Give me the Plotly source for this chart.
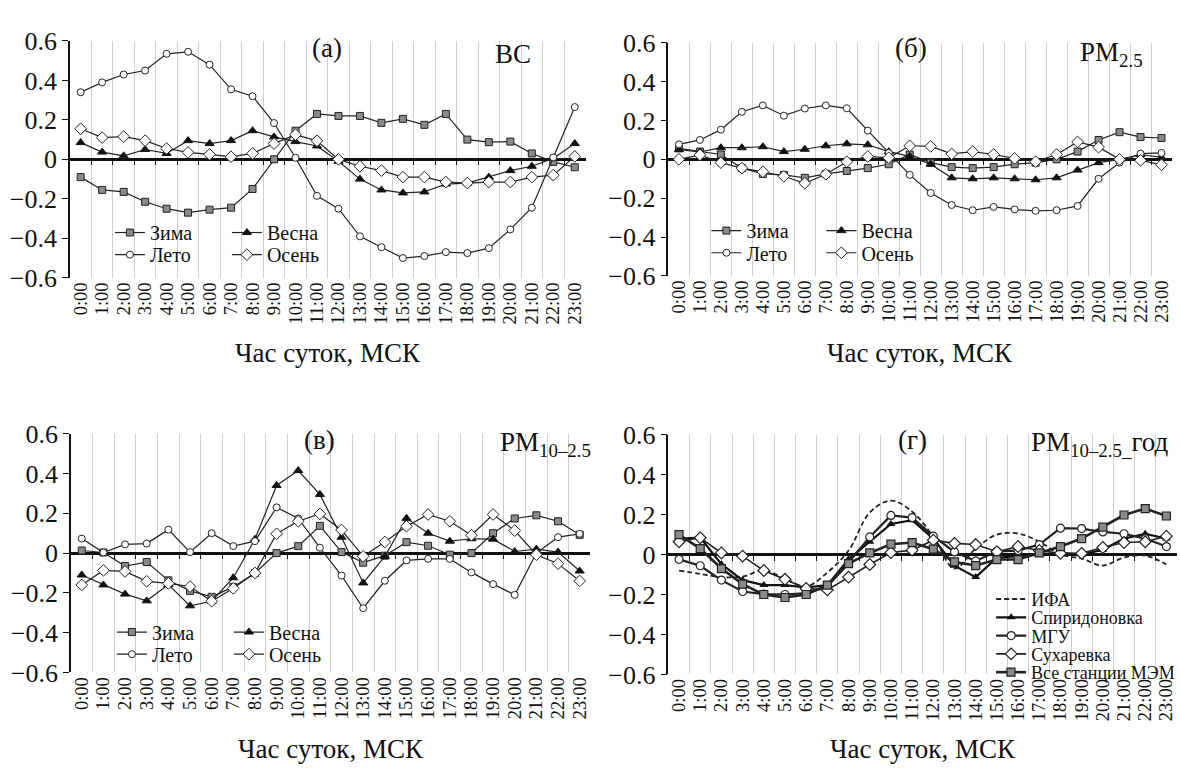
import plotly.graph_objects as go

W, H = 1180, 777
FONT = "Liberation Serif, Times New Roman, serif"

HOURS = [f"{h}:00" for h in range(24)]
X = list(range(24))
SEASONS = ["Зима", "Весна", "Лето", "Осень"]

# (а) BC
bc_zima = [-0.09, -0.155, -0.165, -0.215, -0.25, -0.27, -0.255, -0.245, -0.15, 0.0, 0.145, 0.23,
           0.22, 0.22, 0.185, 0.205, 0.175, 0.23, 0.10, 0.087, 0.09, 0.03, -0.013, -0.04]
bc_vesna = [0.085, 0.037, 0.018, 0.05, 0.03, 0.095, 0.08, 0.095, 0.145, 0.114, 0.09, 0.068,
            -0.01, -0.10, -0.155, -0.17, -0.165, -0.125, -0.12, -0.09, -0.057, -0.035, 0.005, 0.08]
bc_leto = [0.34, 0.39, 0.43, 0.45, 0.535, 0.545, 0.48, 0.355, 0.32, 0.184, 0.008, -0.185,
           -0.25, -0.39, -0.445, -0.5, -0.49, -0.47, -0.475, -0.45, -0.355, -0.245, 0.01, 0.265]
bc_osen = [0.155, 0.11, 0.115, 0.095, 0.055, 0.035, 0.025, 0.013, 0.03, 0.08, 0.125, 0.094,
           0.0, -0.035, -0.057, -0.09, -0.09, -0.115, -0.12, -0.115, -0.115, -0.09, -0.08, 0.015]

# (б) PM2.5
pm25_zima = [0.057, 0.04, 0.025, -0.045, -0.075, -0.08, -0.095, -0.075, -0.06, -0.045, -0.025, 0.025,
             -0.017, -0.04, -0.045, -0.04, -0.025, -0.017, 0.0, 0.04, 0.1, 0.14, 0.115, 0.11]
pm25_vesna = [0.05, 0.038, 0.06, 0.06, 0.065, 0.04, 0.052, 0.07, 0.08, 0.075, 0.04, 0.015,
              -0.025, -0.095, -0.1, -0.095, -0.1, -0.105, -0.095, -0.055, -0.017, 0.0, 0.025, 0.01]
pm25_leto = [0.077, 0.1, 0.153, 0.245, 0.278, 0.225, 0.262, 0.278, 0.263, 0.148, 0.033, -0.08,
             -0.173, -0.235, -0.262, -0.245, -0.258, -0.265, -0.262, -0.24, -0.1, -0.017, 0.03, 0.033]
pm25_osen = [0.0, 0.023, -0.017, -0.045, -0.064, -0.087, -0.123, -0.077, -0.012, 0.015, 0.008, 0.07,
             0.067, 0.028, 0.04, 0.025, 0.005, -0.012, 0.025, 0.09, 0.063, 0.0, -0.005, -0.028]

# (в) PM10-2.5
pm10_zima = [0.013, 0.003, -0.065, -0.045, -0.137, -0.19, -0.22, -0.17, -0.1, 0.0, 0.035, 0.137,
             0.005, -0.048, -0.013, 0.055, 0.037, -0.008, 0.0, 0.1, 0.174, 0.19, 0.16, 0.092]
pm10_vesna = [-0.11, -0.16, -0.206, -0.24, -0.158, -0.265, -0.242, -0.124, 0.07, 0.34, 0.415, 0.295,
              0.08, -0.15, -0.016, 0.175, 0.1, 0.06, 0.072, 0.07, 0.008, 0.02, 0.005, -0.09]
pm10_leto = [0.073, 0.003, 0.044, 0.048, 0.118, 0.005, 0.1, 0.035, 0.06, 0.23, 0.174, 0.027,
             -0.113, -0.277, -0.139, -0.037, -0.029, -0.029, -0.097, -0.156, -0.21, 0.0, 0.08, 0.097]
pm10_osen = [-0.16, -0.087, -0.092, -0.142, -0.152, -0.168, -0.242, -0.177, -0.1, 0.097, 0.16, 0.197,
             0.116, -0.016, 0.056, 0.135, 0.194, 0.16, 0.09, 0.194, 0.113, -0.008, -0.053, -0.14]

# (г) PM10-2.5 annual, stations
STATIONS = ["ИФА", "Спиридоновка", "МГУ", "Сухаревка", "Все станции МЭМ"]
st_ifa = [-0.08, -0.097, -0.113, -0.11, -0.08, -0.12, -0.16, -0.09, 0.02, 0.21, 0.27, 0.215,
          0.09, -0.07, 0.03, 0.1, 0.105, 0.065, 0.0, -0.02, -0.055, -0.015, -0.005, -0.05]
st_spir = [0.08, 0.085, -0.048, -0.128, -0.153, -0.153, -0.165, -0.153, -0.024, 0.064, 0.153, 0.172,
           0.08, -0.056, -0.113, -0.016, -0.008, 0.0, 0.008, 0.0, 0.024, 0.08, 0.104, 0.08]
st_mgu = [-0.024, -0.056, -0.128, -0.185, -0.198, -0.2, -0.193, -0.16, -0.04, 0.088, 0.196, 0.185,
          0.092, 0.013, -0.032, 0.016, 0.02, 0.05, 0.132, 0.13, 0.113, 0.104, 0.08, 0.04]
st_sukh = [0.064, 0.084, 0.008, -0.008, -0.08, -0.124, -0.17, -0.177, -0.113, -0.05, 0.01, 0.022,
           0.072, 0.056, 0.05, 0.014, 0.04, 0.02, 0.006, 0.006, 0.035, 0.06, 0.064, 0.092]
st_mem = [0.1, 0.03, -0.07, -0.148, -0.2, -0.215, -0.2, -0.153, -0.045, 0.008, 0.052, 0.06,
          0.027, -0.037, -0.055, -0.025, -0.025, 0.008, 0.04, 0.08, 0.137, 0.198, 0.23, 0.193]

# ---------------- layout geometry (pixels) ----------------
PANELS = [
    dict(x0=70, x1=586, y0=28, y1=274, label="(а)", lx=327, ly=35, name="BC", nx=493, ny=42,
         series=[bc_zima, bc_vesna, bc_leto, bc_osen], leg=[(115, 227), (115, 250)], ew=72),
    dict(x0=669, x1=1173, y0=30, y1=272, label="(б)", lx=912, ly=35, name="PM<sub>2.5</sub>",
         nx=1079, ny=42, series=[pm25_zima, pm25_vesna, pm25_leto, pm25_osen],
         leg=[(712, 225), (712, 248)], ew=70),
    dict(x0=71, x1=591, y0=436, y1=684, label="(в)", lx=320, ly=442, name="PM<sub>10–2.5</sub>",
         nx=498, ny=447, series=[pm10_zima, pm10_vesna, pm10_leto, pm10_osen],
         leg=[(117, 642), (117, 665)], ew=72),
    dict(x0=669, x1=1178, y0=437, y1=686, label="(г)", lx=913, ly=442,
         name="PM<sub>10–2.5_</sub>год", nx=1030, ny=447, series=None,
         leg=[(997, 608), (997, 627), (997, 646), (997, 665), (997, 684)], ew=None),
]

SEASON_MARKERS = {
    "Зима": dict(symbol="square", size=7, color="#8a8a8a", line=dict(color="#222", width=1)),
    "Весна": dict(symbol="triangle-up", size=8, color="#111", line=dict(color="#111", width=1)),
    "Лето": dict(symbol="circle", size=7, color="white", line=dict(color="#222", width=1)),
    "Осень": dict(symbol="diamond", size=9, color="white", line=dict(color="#222", width=1)),
}

fig = go.Figure()
layout = dict(width=W, height=H, margin=dict(l=0, r=0, t=0, b=0),
              paper_bgcolor="white", plot_bgcolor="white", showlegend=True,
              font=dict(family=FONT, color="#111"))
annotations = []
shapes = []


def px_x(v):
    return v / W


def px_y(v):
    return 1 - v / H


legend_no = 0


def new_legend(x_px, y_px, horizontal, size, ew=None):
    global legend_no
    legend_no += 1
    key = "legend" if legend_no == 1 else f"legend{legend_no}"
    d = dict(x=px_x(x_px - 5), xanchor="left", y=px_y(y_px), yanchor="middle",
             bgcolor="rgba(0,0,0,0)", borderwidth=0,
             font=dict(family=FONT, size=size, color="#111"), itemwidth=30,
             tracegroupgap=0, traceorder="normal")
    if horizontal:
        d.update(orientation="h", entrywidth=ew, entrywidthmode="pixels")
    layout[key] = d
    return key


for i, p in enumerate(PANELS):
    n = i + 1
    xa = "x" if n == 1 else f"x{n}"
    ya = "y" if n == 1 else f"y{n}"
    ov = f"x{n + 4}"
    xdom = [px_x(p["x0"]), px_x(p["x1"])]
    ydom = [px_y(p["y1"]), px_y(p["y0"])]
    zero_pos = (ydom[0] + ydom[1]) / 2

    layout["xaxis" + ("" if n == 1 else str(n))] = dict(
        domain=xdom, anchor=ya, range=[-0.5, 23.5], tickmode="array", tickvals=X,
        ticktext=HOURS, tickangle=-90, ticks="", showline=False, showgrid=False,
        zeroline=False, tickfont=dict(family=FONT, size=18.5, color="#111"))
    layout["yaxis" + ("" if n == 1 else str(n))] = dict(
        domain=ydom, anchor=xa, range=[-0.6, 0.6], tick0=0, dtick=0.2,
        showline=True, linecolor="#111", linewidth=1.6, ticks="outside", ticklen=6,
        tickcolor="#111", tickwidth=1.4, showgrid=False, zeroline=True,
        zerolinecolor="#111", zerolinewidth=2.6,
        tickfont=dict(family=FONT, size=26, color="#111"))
    layout[f"xaxis{n + 4}"] = dict(
        overlaying=xa, anchor="free", position=zero_pos, domain=xdom,
        range=[-0.5, 23.5], tickmode="array", tickvals=[k + 0.5 for k in range(23)],
        showticklabels=False, ticks="outside", ticklen=5, tickcolor="#111", tickwidth=1.2,
        showgrid=True, gridcolor="#cfcfcf", gridwidth=1, showline=False, zeroline=False,
        layer="below traces")
    fig.add_trace(go.Scatter(x=[0], y=[0], xaxis=ov, yaxis=ya, mode="markers",
                             marker=dict(opacity=0), showlegend=False, hoverinfo="skip"))

    if p["series"] is not None:
        lg_top = new_legend(p["leg"][0][0], p["leg"][0][1], True, 20, p["ew"])
        lg_bot = new_legend(p["leg"][1][0], p["leg"][1][1], True, 20, p["ew"])
        for s, vals in zip(SEASONS, p["series"]):
            lg = lg_top if s in ("Зима", "Весна") else lg_bot
            fig.add_trace(go.Scatter(
                x=X, y=vals, xaxis=xa, yaxis=ya, name=s, mode="lines+markers",
                line=dict(color="#222", width=1.2), marker=SEASON_MARKERS[s], legend=lg))
    else:
        st_series = [st_ifa, st_spir, st_mgu, st_sukh, st_mem]
        st_style = [
            dict(line=dict(color="#222", width=1.8, dash="5px,3px", shape="spline"), mode="lines",
                 marker=None),
            dict(line=dict(color="#111", width=2.2), mode="lines+markers",
                 marker=dict(symbol="triangle-up", size=8, color="#111")),
            dict(line=dict(color="#222", width=2.2), mode="lines+markers",
                 marker=dict(symbol="circle", size=8, color="white", line=dict(color="#222", width=1.2))),
            dict(line=dict(color="#222", width=1.6), mode="lines+markers",
                 marker=dict(symbol="diamond", size=9, color="white", line=dict(color="#222", width=1.2))),
            dict(line=dict(color="#222", width=2.6), mode="lines+markers",
                 marker=dict(symbol="square", size=8, color="#8a8a8a", line=dict(color="#222", width=1.2))),
        ]
        for name, vals, st, (lx, ly) in zip(STATIONS, st_series, st_style, p["leg"]):
            lg = new_legend(lx, ly, False, 18)
            kw = dict(x=X, y=vals, xaxis=xa, yaxis=ya, name=name, mode=st["mode"],
                      line=st["line"], legend=lg)
            if st["marker"] is not None:
                kw["marker"] = st["marker"]
            fig.add_trace(go.Scatter(**kw))
        shapes.append(dict(type="rect", xref="paper", yref="paper", layer="between",
                           x0=px_x(992), x1=px_x(p["x1"]), y0=px_y(p["y1"] - 0.5), y1=px_y(595),
                           fillcolor="white", line=dict(width=0)))

    annotations.append(dict(text=p["label"], x=px_x(p["lx"]), y=px_y(p["ly"]), xref="paper",
                            yref="paper", showarrow=False, xanchor="center", yanchor="middle",
                            font=dict(family=FONT, size=27, color="#111")))
    annotations.append(dict(text=p["name"], x=px_x(p["nx"]), y=px_y(p["ny"]), xref="paper",
                            yref="paper", showarrow=False, xanchor="left", yanchor="middle",
                            font=dict(family=FONT, size=27, color="#111")))
    ty = 352 if n <= 2 else 763
    annotations.append(dict(text="Час суток, МСК", x=(xdom[0] + xdom[1]) / 2, y=px_y(ty),
                            xref="paper", yref="paper", showarrow=False, xanchor="center",
                            yanchor="middle", font=dict(family=FONT, size=27, color="#111")))

layout["annotations"] = annotations
layout["shapes"] = shapes
fig.update_layout(**layout)
fig.write_html("out.html")
